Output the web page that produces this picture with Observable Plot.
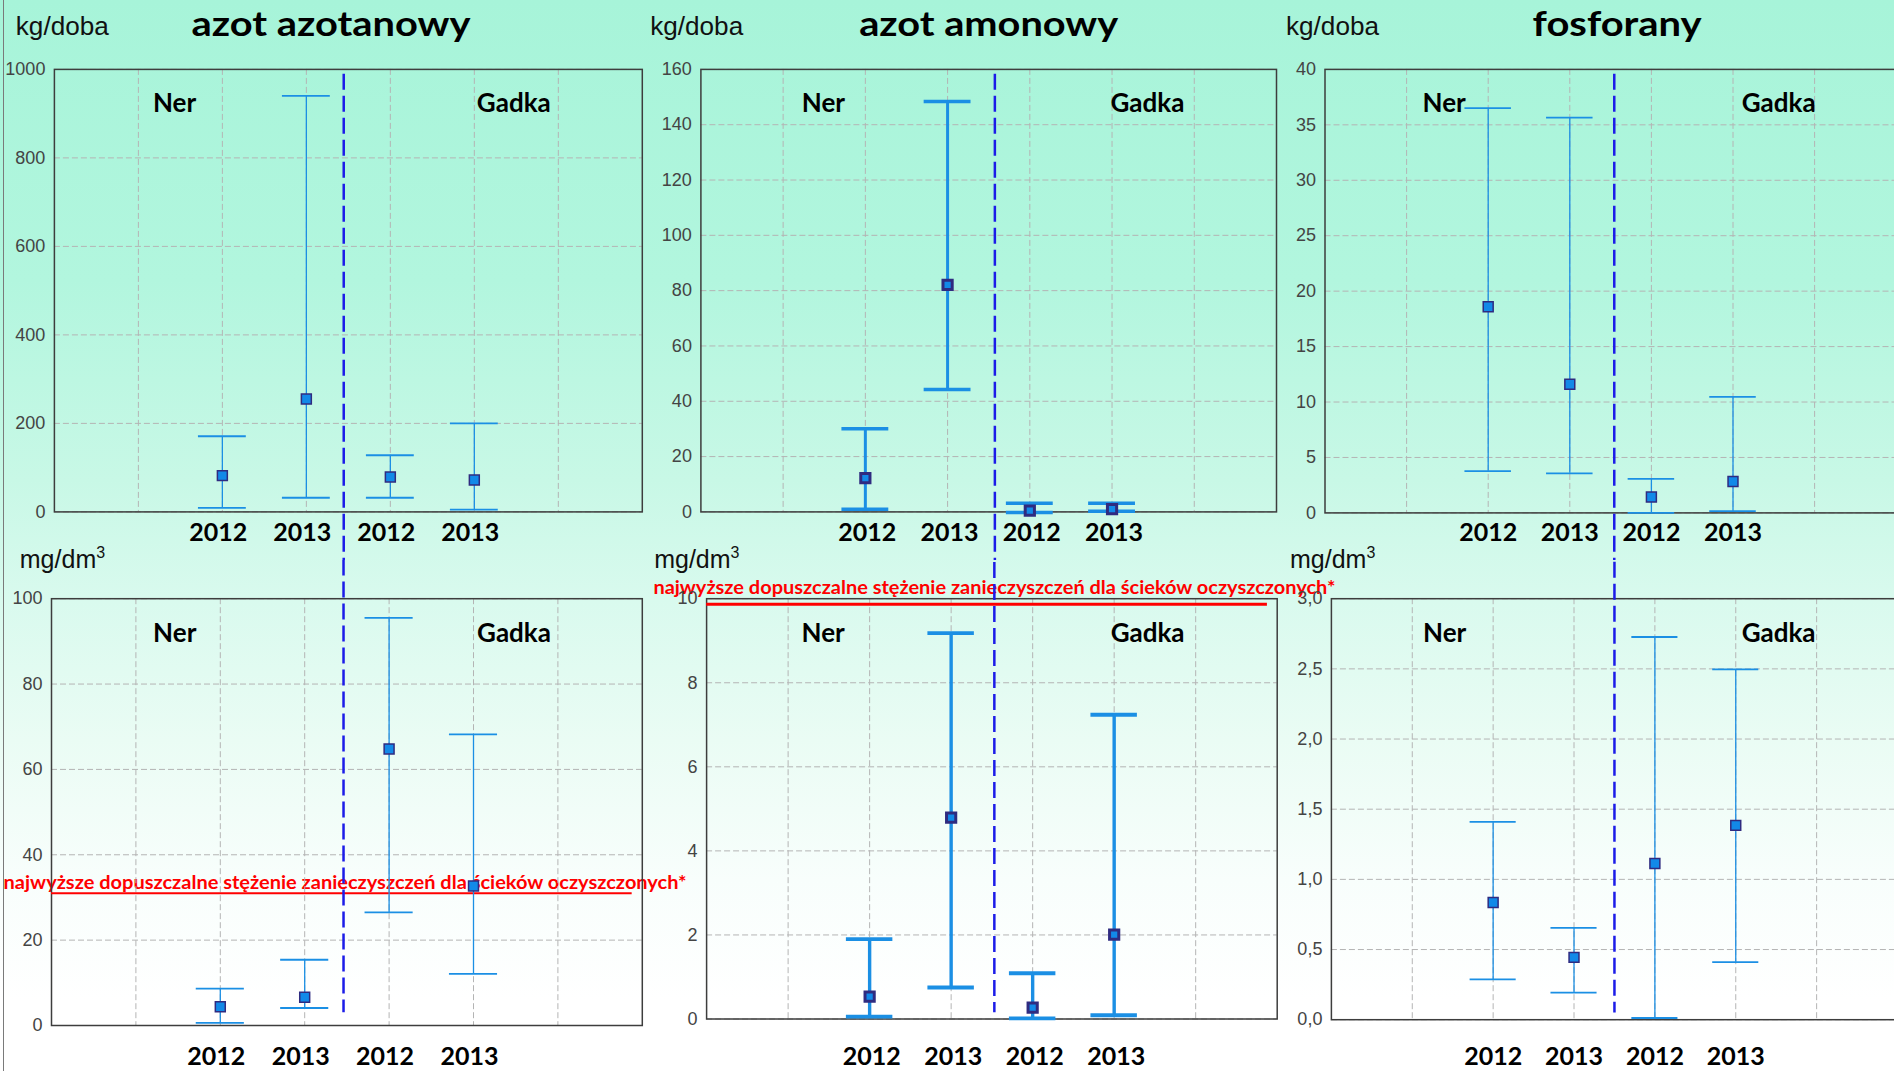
<!DOCTYPE html>
<html>
<head>
<meta charset="utf-8">
<script src="https://cdn.jsdelivr.net/npm/d3@7"></script>
<script src="https://cdn.jsdelivr.net/npm/@observablehq/plot@0.6"></script>
<style>
html, body { margin: 0; padding: 0; }
body {
  width: 1894px; height: 1071px; overflow: hidden; position: relative;
  background: linear-gradient(to bottom, #a7f4d9 0px, #b2f6de 280px, #c8f8e6 480px, #d9faee 600px, #eafcf4 740px, #f8fefc 880px, #ffffff 1000px);
  font-family: "Liberation Sans", Arial, sans-serif;
}
#notes { position: absolute; left: 0; top: 0; z-index: 0; }
.panel { position: absolute; z-index: 1; }
.panel svg { max-width: none !important; }
#edge { position: absolute; left: 3px; top: 0; width: 0; height: 1071px; border-left: 1px solid #7a7a7a; z-index: 2; }
</style>
</head>
<body>
<div id="edge"></div>
<script>
// ---------- data ----------
const sites = ["Ner", "Ner", "Gadka", "Gadka"];
const years = ["2012", "2013", "2012", "2013"];
const siteLabels = ["Ner", "Gadka"];

// loads, kg/doba
const nitrateLoadMean = [82, 255, 79, 72];
const nitrateLoadLow  = [9, 32, 32, 5];
const nitrateLoadHigh = [171, 940, 128, 200];

const ammoniumLoadMean = [12.2, 82.1, 0.5, 1.0];
const ammoniumLoadLow  = [1.0, 44.3, -0.2, 0.25];
const ammoniumLoadHigh = [30.1, 148.4, 3.1, 3.1];

const phosphateLoadMean = [18.6, 11.6, 1.43, 2.83];
const phosphateLoadLow  = [3.76, 3.57, 0, 0.16];
const phosphateLoadHigh = [36.5, 35.65, 3.07, 10.47];

// concentrations, mg/dm3
const nitrateConcMean = [4.4, 6.6, 64.8, 32.7];
const nitrateConcLow  = [0.63, 4.1, 26.5, 12.1];
const nitrateConcHigh = [8.65, 15.4, 95.5, 68.2];

const ammoniumConcMean = [0.53, 4.79, 0.27, 2.01];
const ammoniumConcLow  = [0.056, 0.75, 0.016, 0.09];
const ammoniumConcHigh = [1.9, 9.18, 1.09, 7.24];

const phosphateConcMean = [0.835, 0.444, 1.113, 1.385];
const phosphateConcLow  = [0.287, 0.193, 0.012, 0.41];
const phosphateConcHigh = [1.41, 0.654, 2.727, 2.496];

// limits (najwyższe dopuszczalne stężenie)
const nitrateConcLimit = 31;
const ammoniumConcLimit = 9.87;

// tick labels
const nitrateLoadTicks = [0, 200, 400, 600, 800, 1000];
const ammoniumLoadTicks = [0, 20, 40, 60, 80, 100, 120, 140, 160];
const phosphateLoadTicks = [0, 5, 10, 15, 20, 25, 30, 35, 40];
const nitrateConcTicks = [0, 20, 40, 60, 80, 100];
const ammoniumConcTicks = [0, 2, 4, 6, 8, 10];
const phosphateConcTicks = [0, 0.5, 1.0, 1.5, 2.0, 2.5, 3.0];

const titles = ["azot azotanowy", "azot amonowy", "fosforany"];
const loadUnit = "kg/doba";
const concUnit = "mg/dm";
const noteText = "najwyższe dopuszczalne stężenie zanieczyszczeń dla ścieków oczyszczonych*";

// ---------- styles ----------
const barColor = "#1b8fe4";
const dotFill = "#1289e8";
const dotStroke = "#2f2b80";
const gridColor = "#b4b4b4";
const sepColor = "#1c1ce8";
const gridSlots = [1, 2, 3, 4, 5, 6];
const capHalf = 0.285;

const panels = [
  {left: 0, top: 0, width: 660, height: 560, ml: 53.9, mr: 18.2, mt: 68.9, mb: 48.6,
   mean: nitrateLoadMean, lo: nitrateLoadLow, hi: nitrateLoadHigh, ticks: nitrateLoadTicks,
   sep: 3.445, row: 0, bw: 1.3, dw: 1.5, r: 5.6, labelX: [1.43, 5.47], yearDy: 28.6, yearDx: -4, sepBottom: 0},
  {left: 648, top: 0, width: 652, height: 560, ml: 52.4, mr: 24, mt: 68.9, mb: 48.6,
   mean: ammoniumLoadMean, lo: ammoniumLoadLow, hi: ammoniumLoadHigh, ticks: ammoniumLoadTicks,
   sep: 3.575, row: 0, bw: 3, dw: 3, r: 5.2, labelX: [1.49, 5.43], yearDy: 28.6, yearDx: 2, sepBottom: 0},
  {left: 1280, top: 0, width: 630, height: 560, ml: 44.5, mr: 14.3, mt: 68.9, mb: 47.6,
   mean: phosphateLoadMean, lo: phosphateLoadLow, hi: phosphateLoadHigh, ticks: phosphateLoadTicks,
   sep: 3.545, row: 0, bw: 1.3, dw: 1.5, r: 5.6, labelX: [1.46, 5.56], yearDy: 27.6, yearDx: 0, sepBottom: 0},
  {left: 0, top: 560, width: 660, height: 511, ml: 51, mr: 18.2, mt: 38.2, mb: 46,
   mean: nitrateConcMean, lo: nitrateConcLow, hi: nitrateConcHigh, ticks: nitrateConcTicks,
   sep: 3.46, row: 1, bw: 1.3, dw: 1.5, r: 5.6, labelX: [1.46, 5.48], yearDy: 39, yearDx: -4, sepBottom: 0.03,
   limit: nitrateConcLimit, limitWidth: 2},
  {left: 648, top: 560, width: 652, height: 511, ml: 58.1, mr: 23.3, mt: 38.2, mb: 52.5,
   mean: ammoniumConcMean, lo: ammoniumConcLow, hi: ammoniumConcHigh, ticks: ammoniumConcTicks,
   sep: 3.53, row: 1, bw: 3.4, dw: 3, r: 5.2, labelX: [1.43, 5.41], yearDy: 45.5, yearDx: 2, sepBottom: 0.015,
   limit: ammoniumConcLimit, limitWidth: 3},
  {left: 1280, top: 560, width: 630, height: 511, ml: 50.9, mr: 13, mt: 38.2, mb: 51.8,
   mean: phosphateConcMean, lo: phosphateConcLow, hi: phosphateConcHigh, ticks: phosphateConcTicks,
   sep: 3.5, row: 1, bw: 1.3, dw: 1.5, r: 5.6, labelX: [1.40, 5.53], yearDy: 44.8, yearDx: 0, sepBottom: 0.016,
   comma: true}
];

function makePanel(cfg) {
  const rows = sites.map((s, i) => ({slot: i + 2, site: s, year: years[i], mean: cfg.mean[i], lo: cfg.lo[i], hi: cfg.hi[i]}));
  const yMax = cfg.ticks[cfg.ticks.length - 1];
  const fmt = cfg.comma ? (d => d.toFixed(1).replace(".", ",")) : (d => String(d));
  const sepY1 = cfg.row === 0 ? yMax * 0.989 : yMax * 1.4;
  const sepY2 = cfg.row === 0 ? -yMax * 0.4 : yMax * cfg.sepBottom;
  const marks = [
    Plot.ruleY(cfg.ticks, {stroke: gridColor, strokeWidth: 1, strokeDasharray: "6,3"}),
    Plot.ruleX(gridSlots, {stroke: gridColor, strokeWidth: 1, strokeDasharray: "6,3"}),
    Plot.frame({stroke: "#3d3d3d", strokeWidth: 1.5})
  ];
  if (cfg.limit != null) {
    marks.push(Plot.ruleY([cfg.limit], {x1: 0, x2: 6.88, stroke: "#ff0000", strokeWidth: cfg.limitWidth}));
  }
  marks.push(
    Plot.ruleX([cfg.sep], {y1: sepY1, y2: sepY2, stroke: sepColor, strokeWidth: 2.5, strokeDasharray: "16,6"}),
    Plot.ruleX(rows, {x: "slot", y1: "lo", y2: "hi", stroke: barColor, strokeWidth: cfg.bw}),
    Plot.ruleY(rows, {y: "hi", x1: d => d.slot - capHalf, x2: d => d.slot + capHalf, stroke: barColor, strokeWidth: cfg.bw + 0.5}),
    Plot.ruleY(rows, {y: "lo", x1: d => d.slot - capHalf, x2: d => d.slot + capHalf, stroke: barColor, strokeWidth: cfg.bw + 0.5}),
    Plot.dot(rows, {x: "slot", y: "mean", symbol: "square", r: cfg.r, fill: dotFill, stroke: dotStroke, strokeWidth: cfg.dw}),
    Plot.text(siteLabels, {x: cfg.labelX, text: d => d, frameAnchor: "top", dy: 43, lineAnchor: "bottom",
      fontSize: 26, fontWeight: 700, fontFamily: "Lato", fill: "#000"}),
    Plot.text(rows, {x: "slot", text: "year", frameAnchor: "bottom", dy: cfg.yearDy, dx: cfg.yearDx, lineAnchor: "bottom",
      fontSize: 25, fontWeight: 700, fontFamily: "Lato", fill: "#000"})
  );
  const svg = Plot.plot({
    width: cfg.width, height: cfg.height,
    marginLeft: cfg.ml, marginRight: cfg.mr, marginTop: cfg.mt, marginBottom: cfg.mb,
    x: {domain: [0, 7], axis: null},
    y: {domain: [0, yMax], ticks: cfg.ticks, tickFormat: fmt, tickSize: 0, tickPadding: 9, label: null},
    style: {background: "transparent", overflow: "hidden", maxWidth: "none", fontFamily: "Liberation Sans", fontSize: "18px", color: "#444"},
    marks
  });
  const div = document.createElement("div");
  div.className = "panel";
  div.style.left = cfg.left + "px";
  div.style.top = cfg.top + "px";
  div.style.width = cfg.width + "px";
  div.style.height = cfg.height + "px";
  div.appendChild(svg);
  document.body.appendChild(div);
}
panels.forEach(makePanel);

// ---------- titles, units, notes ----------
const notes = d3.select("body").append("svg").attr("id", "notes").attr("width", 1894).attr("height", 1071);
const titleSpecs = [[191.5, 279], [859.2, 259], [1532.6, 169]];
titles.forEach((t, i) => {
  notes.append("text").attr("x", titleSpecs[i][0]).attr("y", 36)
    .attr("textLength", titleSpecs[i][1]).attr("lengthAdjust", "spacingAndGlyphs")
    .style("font-family", "Lato").style("font-weight", 700).style("font-size", "35px").attr("fill", "#000").text(t);
});
const unitX = [15.8, 650.2, 1286];
unitX.forEach(x => {
  notes.append("text").attr("x", x).attr("y", 35).attr("textLength", 93).attr("lengthAdjust", "spacingAndGlyphs")
    .style("font-family", "Liberation Sans").style("font-size", "25px").attr("fill", "#111").text(loadUnit);
  const t = notes.append("text").attr("x", x + 4).attr("y", 568)
    .style("font-family", "Liberation Sans").style("font-size", "25px").attr("fill", "#111");
  t.append("tspan").text(concUnit);
  t.append("tspan").attr("dy", -10).style("font-size", "16px").text("3");
});
[[3.6, 889, 683], [653.4, 594, 682]].forEach(([x, y, w]) => {
  notes.append("text").attr("x", x).attr("y", y).attr("textLength", w).attr("lengthAdjust", "spacingAndGlyphs")
    .style("font-family", "Lato").style("font-weight", 700).style("font-size", "18px").attr("fill", "#ff0000").text(noteText);
});
</script>
</body>
</html>
